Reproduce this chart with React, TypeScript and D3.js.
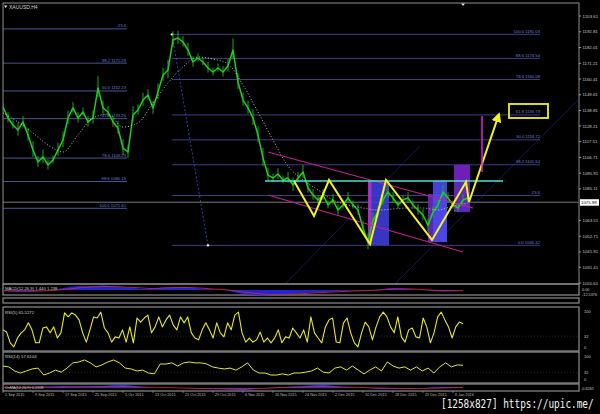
import React from 'react';
import * as d3 from 'd3';

// ---------- DATA ----------
const closePrices = [
  1141.2, 1133.7, 1128.9, 1125.5, 1131.0, 1122.1, 1111.8, 1103.5, 1107.0, 1101.5,
  1104.9, 1111.8, 1118.6, 1133.7, 1140.6, 1133.7, 1137.8, 1131.0, 1133.7, 1154.3,
  1140.6, 1137.8, 1131.0, 1126.8, 1113.1, 1110.4, 1135.8, 1139.2, 1146.0, 1149.5,
  1140.6, 1151.5, 1163.2, 1166.6, 1187.2, 1188.5, 1185.8, 1180.3, 1172.1, 1174.8,
  1172.1, 1168.0, 1165.2, 1168.0, 1165.2, 1169.3, 1180.3, 1158.4, 1146.0, 1140.6,
  1133.7, 1122.1, 1106.3, 1094.6, 1092.6, 1095.3, 1091.2, 1092.6, 1087.8, 1092.6,
  1096.7, 1085.7, 1080.9, 1077.5, 1080.9, 1074.1, 1077.5, 1070.6, 1074.1, 1078.9,
  1074.1, 1070.6, 1058.3, 1048.5, 1063.8, 1069.3, 1077.5, 1083.0, 1078.9, 1074.1,
  1077.5, 1078.9, 1074.1, 1070.6, 1067.2, 1060.0, 1069.3, 1074.1, 1083.0, 1078.9,
  1074.1, 1072.0, 1077.5, 1078.9,
];
const barRange = [
  3, 4, 3, 5, 4, 5, 6, 4, 5, 4, 3, 5, 6, 5, 4, 4, 3, 4, 5, 8,
  5, 4, 4, 5, 6, 5, 6, 4, 5, 4, 5, 6, 5, 7, 6, 5, 4, 5, 4, 3,
  3, 4, 3, 3, 4, 5, 8, 6, 5, 5, 6, 6, 7, 5, 3, 4, 3, 4, 5, 4,
  5, 4, 4, 3, 4, 3, 4, 4, 3, 4, 3, 4, 5, 6, 5, 4, 4, 5, 4, 3,
  3, 4, 3, 4, 4, 5, 4, 4, 5, 4, 3, 3, 4, 3,
];
const maStep = 3;
const maPrices = [
  1137.1, 1131.0, 1123.4, 1115.2, 1110.4, 1122.1, 1133.7, 1136.4, 1127.5, 1130.3,
  1144.0, 1157.7, 1168.7, 1175.5, 1174.1, 1170.7, 1156.3, 1137.8, 1118.6, 1100.8,
  1091.2, 1084.4, 1077.5, 1074.1, 1072.0, 1070.6, 1071.3, 1072.0, 1072.0, 1070.6,
  1073.4, 1075.4,
];
const priceTicks = [
  '1203.61', '1192.81', '1182.01', '1171.21', '1160.41', '1149.61', '1138.81', '1128.21',
  '1117.51', '1106.71', '1095.91', '1085.11', '1063.51', '1052.71', '1041.91', '1031.41', '1020.61',
];
const currentPrice = 1075.98;

const leftFibLevels = [1194.77, 1171.29, 1152.23, 1133.26, 1106.23, 1090.15, 1071.81];
const leftFibLabels = ['23.6', '38.2 1171.29', '50.0 1152.23', '61.8 1133.26', '78.6 1106.23', '88.6 1090.15', '100.0 1071.81'];
const leftFibRange = [0, 24.8];
const rightFibLevels = [1191.03, 1174.54, 1160.08, 1135.79, 1118.72, 1101.64, 1080.55, 1046.42];
const rightFibLabels = ['100.0 1191.03', '88.6 1174.54', '78.6 1160.08', '61.8 1135.79', '50.0 1118.72', '38.2 1101.64', '23.6', '0.0 1046.42'];
const rightFibRange = [33.8, 107.4];
const fibAnchorIdx = [33.8, 41];
const fibAnchorPrice = [1191.03, 1046.42];

const zigIdx = [58.2, 62.2, 65.2, 73.4, 76.6, 85.8, 92.6, 93.2, 99.2];
const zigPrice = [1090.5, 1066.5, 1091.2, 1047.3, 1091.2, 1050.1, 1089.8, 1076.1, 1136.4];

const necklinePrice = 1090.5;
const necklineIdx = [52.4, 100];
const channelUpperIdx = [53, 94];
const channelUpperPrice = [1110.4, 1072.0];
const channelLowerIdx = [53, 92];
const channelLowerPrice = [1080.9, 1041.9];
const gannA = { idx: [56.4, 83.4], price: [1019.9, 1114.5] };
const gannB = { idx: [78.4, 115], price: [1019.9, 1146.0] };

const boxes = [
  { i0: 73, i1: 77.2, p0: 1046.6, p1: 1090.5, fill: '#3c3cd8' },
  { i0: 73, i1: 73.7, p0: 1046.6, p1: 1090.5, fill: '#b030c8' },
  { i0: 85, i1: 88.8, p0: 1048.7, p1: 1081.6, fill: '#6a28c0' },
  { i0: 86, i1: 88.8, p0: 1048.7, p1: 1090.5, fill: '#4a4af0' },
  { i0: 90.2, i1: 93.4, p0: 1069.3, p1: 1101.5, fill: '#7a22cc' },
  { i0: 90.2, i1: 93.4, p0: 1069.3, p1: 1089.8, fill: '#5a2ab8' },
];
const targetIdx = 95.8;
const targetPrice = [1135.1, 1096.7];
const targetBoxIdx = [101.2, 109];
const targetBoxPrice = [1133.7, 1143.3];

const timeTickIdx = [0, 6, 12, 18, 24, 30, 36, 42, 48, 54, 60, 66, 72, 78, 84, 90];
const timeLabels = [
  '1 Sep 2015', '9 Sep 2015', '17 Sep 2015', '25 Sep 2015', '5 Oct 2015', '13 Oct 2015',
  '21 Oct 2015', '29 Oct 2015', '6 Nov 2015', '16 Nov 2015', '24 Nov 2015', '2 Dec 2015',
  '10 Dec 2015', '18 Dec 2015', '29 Dec 2015', '6 Jan 2016',
];

const macdHist = [
  -2, -3, -3, -2, -1, 0, 4, 7, 8, 8, 9, 7, 5, 4, 2, 3, 5, 6, 6, 4,
  2, 1, 0, -4, -8, -10, -11, -10, -9, -8, -6, -5, -4, -3, -2, -1, -1, 0, 2, 4,
  3, 1, 0, -2, -3, -2, -1,
];
const macdSignal = [
  -1, -2, -2.4, -2.4, -2, -1, 1, 3, 5, 6, 7, 7, 6, 5, 4, 3, 4, 4.6, 5.2, 4.6,
  3.6, 2, 1, -1, -4, -6.4, -8, -9, -9, -8.4, -7.2, -6, -5, -4, -3, -2, -1.4, -0.8, 0.4, 2,
  2.4, 2, 1, -0.4, -1.4, -1.8, -1.4,
];
const rsi5 = [
  49, 43, 14, 3, 27, 41, 49, 68, 49, 14, 14, 54, 57, 41, 57, 27, 41, 95, 84, 95,
  89, 76, 41, 16, 49, 84, 81, 97, 54, 41, 16, 30, 27, 49, 16, 57, 14, 81, 70, 81,
  89, 41, 57, 84, 57, 76, 89, 62, 49, 84, 68, 84, 41, 27, 22, 49, 68, 49, 27, 68,
  41, 30, 68, 49, 89, 97, 41, 16, 27, 16, 22, 43, 16, 27, 14, 27, 49, 14, 30, 27,
  54, 41, 27, 49, 16,
  84, 41, 27, 14, 57, 76, 81, 16, 14, 68, 81, 41, 14, 3, 41, 70, 57, 22, 57, 84,
  97, 84, 57, 41, 84, 30, 16, 49, 54, 30, 27, 81, 57, 14, 41, 84, 97, 76, 57, 27,
  57, 70, 65.5,
];
const rsi14 = [
  55, 52, 38, 31, 38, 45, 48, 24, 31, 41, 34, 48, 66, 69, 76, 66, 52, 59, 69, 76,
  66, 48, 45, 38, 41, 31, 28, 62, 62, 66, 55, 66, 69, 66, 66, 62, 52, 48, 45, 48,
  41, 52, 66, 41, 31, 31, 24, 24, 28, 24, 31, 31, 34, 38,
  48, 34, 31, 48, 52, 41, 55, 41, 28, 41, 52, 38, 69, 55, 48, 52, 41, 52, 38, 48,
  31, 52, 66, 52, 59, 57.6,
];
const osma = [0, 1, 1, 2, 1, 2, 3, 1, 0, 0, -1, -1, -2, 0, 1, 2, 3, 1, 0, -1, -1, 0, 1, 1];
const osmaSignal = [0.5, 0.5, 1, 1, 1.5, 1.5, 1.5, 1, 0.5, 0, -0.5, -1, -1, -0.5, 0.5, 1, 1.5, 1, 0.5, 0, -0.5, -0.5, 0, 0.5];
const rsiLevels = ['100', '32', '0'];
const rsiLevelValues = [100, 32, 0];

// ---------- LAYOUT ----------
const W = 600, H = 414;
const L = 3, R = 578;
const FONT = 'Liberation Sans, DejaVu Sans, sans-serif';

export default function App() {
  const x = d3.scaleLinear().domain([0, 115]).range([3, 578]);
  const y = d3.scaleLinear().domain([1020.61, 1203.61]).range([283, 16]);

  const pricePath = d3.line<number>().x((_, i) => x(i)).y((d) => y(d))(closePrices) || '';
  const maPath = d3.line<number>().x((_, i) => x(i * maStep)).y((d) => y(d)).curve(d3.curveMonotoneX)(maPrices) || '';
  const zigPath = d3.line<number>().x((d) => x(d)).y((_, i) => y(zigPrice[i]))(zigIdx) || '';

  const xm = d3.scaleLinear().domain([0, macdHist.length - 1]).range([3, 463]);
  const ym = d3.scaleLinear().domain([-12, 12]).range([296, 284]);
  const macdArea = d3.area<number>().x((_, i) => xm(i)).y0(ym(0)).y1((d) => ym(d)).curve(d3.curveMonotoneX)(macdHist) || '';
  const macdSig = d3.line<number>().x((_, i) => xm(i)).y((d) => ym(d)).curve(d3.curveMonotoneX)(macdSignal) || '';

  const xr5 = d3.scaleLinear().domain([0, rsi5.length - 1]).range([3, 463]);
  const yr5 = d3.scaleLinear().domain([0, 100]).range([348, 311]);
  const rsi5Path = d3.line<number>().x((_, i) => xr5(i)).y((d) => yr5(d))(rsi5) || '';
  const xr14 = d3.scaleLinear().domain([0, rsi14.length - 1]).range([3, 463]);
  const yr14 = d3.scaleLinear().domain([0, 100]).range([382, 353]);
  const rsi14Path = d3.line<number>().x((_, i) => xr14(i)).y((d) => yr14(d))(rsi14) || '';
  const xo = d3.scaleLinear().domain([0, osma.length - 1]).range([3, 463]);
  const yo = d3.scaleLinear().domain([-4, 4]).range([392, 384]);
  const osmaArea = d3.area<number>().x((_, i) => xo(i)).y0(yo(0)).y1((d) => yo(d)).curve(d3.curveMonotoneX)(osma) || '';
  const osmaSig = d3.line<number>().x((_, i) => xo(i)).y((d) => yo(d)).curve(d3.curveMonotoneX)(osmaSignal) || '';

  const frame = '#8e8e8e';
  const panels = [
    [284, 295], [298, 303], [307, 351], [352, 383], [384, 391],
  ];
  const clamp = (v: number, a: number, b: number) => Math.max(a, Math.min(b, v));

  return (
    <svg width={W} height={H} style={{ position: 'absolute', left: 0, top: 0, background: '#000' }} fontFamily={FONT}>
      <defs>
        <marker id="arr" viewBox="0 0 10 10" refX="8" refY="5" markerWidth="5" markerHeight="5" orient="auto">
          <path d="M0,0 L10,5 L0,10 z" fill="#f2f21e" />
        </marker>
        <clipPath id="main"><rect x={L} y={3} width={R - L + 1} height={281} /></clipPath>
      </defs>
      <rect x={0} y={0} width={W} height={H} fill="#000" />

      <g clipPath="url(#main)">
        <line x1={x(gannA.idx[0])} y1={y(gannA.price[0])} x2={x(gannA.idx[1])} y2={y(gannA.price[1])} stroke="#161654" strokeWidth={1} />
        <line x1={x(gannB.idx[0])} y1={y(gannB.price[0])} x2={x(gannB.idx[1])} y2={y(gannB.price[1])} stroke="#161654" strokeWidth={1} />

        {leftFibLevels.map((p, i) => (
          <g key={'lf' + i}>
            <line x1={x(leftFibRange[0])} x2={x(leftFibRange[1])} y1={y(p)} y2={y(p)} stroke="#4a5696" strokeWidth={1} />
            <text x={x(leftFibRange[1]) - 1} y={y(p) - 1.5} fontSize={4.2} fill="#6f7fd6" textAnchor="end">{leftFibLabels[i]}</text>
          </g>
        ))}
        {rightFibLevels.map((p, i) => (
          <g key={'rf' + i}>
            <line x1={x(rightFibRange[0])} x2={x(rightFibRange[1])} y1={y(p)} y2={y(p)} stroke="#3e3e86" strokeWidth={1} />
            <text x={x(rightFibRange[1])} y={y(p) - 1.5} fontSize={4.2} fill="#6f7fd6" textAnchor="end">{rightFibLabels[i]}</text>
          </g>
        ))}
        <line x1={x(fibAnchorIdx[0])} y1={y(fibAnchorPrice[0])} x2={x(fibAnchorIdx[1])} y2={y(fibAnchorPrice[1])} stroke="#34449a" strokeWidth={1} strokeDasharray="2,2" />
        <circle cx={x(fibAnchorIdx[0])} cy={y(fibAnchorPrice[0])} r={1.2} fill="#fff" />
        <circle cx={x(fibAnchorIdx[1])} cy={y(fibAnchorPrice[1])} r={1.2} fill="#fff" />

        <line x1={L} x2={R} y1={y(currentPrice)} y2={y(currentPrice)} stroke="#7a7a7a" strokeWidth={1} />

        {boxes.map((b, i) => (
          <rect key={'b' + i} x={x(b.i0)} y={y(b.p1)} width={x(b.i1) - x(b.i0)} height={y(b.p0) - y(b.p1)} fill={b.fill} opacity={0.9} />
        ))}

        {closePrices.map((c, i) => (
          <line key={'w' + i} x1={x(i)} x2={x(i)} y1={y(c + barRange[i])} y2={y(c - barRange[i] * 0.8)} stroke="#18a818" strokeWidth={1} />
        ))}
        <path d={pricePath} fill="none" stroke="#22cc22" strokeWidth={1.5} strokeLinejoin="round" />
        <path d={maPath} fill="none" stroke="#d0d0d0" strokeWidth={0.9} strokeDasharray="1,2" />

        <line x1={x(channelUpperIdx[0])} y1={y(channelUpperPrice[0])} x2={x(channelUpperIdx[1])} y2={y(channelUpperPrice[1])} stroke="#c0208e" strokeWidth={1.1} />
        <line x1={x(channelLowerIdx[0])} y1={y(channelLowerPrice[0])} x2={x(channelLowerIdx[1])} y2={y(channelLowerPrice[1])} stroke="#c0208e" strokeWidth={1.1} />
        <line x1={x(necklineIdx[0])} x2={x(necklineIdx[1])} y1={y(necklinePrice)} y2={y(necklinePrice)} stroke="#4fe0cf" strokeWidth={1.4} />

        <path d={zigPath} fill="none" stroke="#f2f21e" strokeWidth={2} strokeLinejoin="miter" markerEnd="url(#arr)" />

        <line x1={x(targetIdx)} x2={x(targetIdx)} y1={y(targetPrice[0])} y2={y(targetPrice[1])} stroke="#e020d8" strokeWidth={1.5} />
        <rect x={x(targetBoxIdx[0])} y={y(targetBoxPrice[1])} width={x(targetBoxIdx[1]) - x(targetBoxIdx[0])} height={y(targetBoxPrice[0]) - y(targetBoxPrice[1])} fill="none" stroke="#f2f21e" strokeWidth={1.8} />
      </g>

      <rect x={L} y={3} width={R - L + 1} height={281} fill="none" stroke={frame} strokeWidth={1} />
      <text x={9} y={8.5} fontSize={5} fill="#d8d8d8">XAUUSD,H4</text>
      <path d="M4,5.5 L7.5,5.5 L5.75,8 Z" fill="#ddd" />
      <path d="M461,3.5 L465,3.5 L463,6 Z" fill="#ddd" />

      {priceTicks.map((t) => (
        <g key={t}>
          <line x1={R + 1} x2={R + 3} y1={y(+t)} y2={y(+t)} stroke="#bbb" strokeWidth={0.8} />
          <text x={R + 4.5} y={y(+t) + 1.5} fontSize={4.3} fill="#c8c8c8">{t}</text>
        </g>
      ))}
      <rect x={R + 2} y={y(currentPrice) - 3} width={19} height={6.5} fill="#fff" />
      <text x={R + 3} y={y(currentPrice) + 1.6} fontSize={4.3} fill="#000">{currentPrice.toFixed(2)}</text>

      {panels.map(([a, b], i) => (
        <rect key={'p' + i} x={L} y={a} width={R - L + 1} height={b - a} fill="none" stroke={frame} strokeWidth={1.2} />
      ))}

      <path d={macdArea} fill="#2424e6" opacity={0.95} />
      <path d={macdSig} fill="none" stroke="#c8283c" strokeWidth={0.9} />
      <text x={5} y={289.5} fontSize={4.2} fill="#cfcfcf">MACD(12,26,9) 1.440 1.238</text>
      <text x={R + 4} y={ym(0) + 1} fontSize={3.8} fill="#c8c8c8">0.00</text>
      <text x={R + 4} y={ym(-8) + 1.5} fontSize={3.8} fill="#c8c8c8">-12.5376</text>

      <line x1={L} x2={R} y1={yr5(32)} y2={yr5(32)} stroke="#3a3a3a" strokeWidth={0.6} strokeDasharray="1,2" />
      <path d={rsi5Path} fill="none" stroke="#e8e82a" strokeWidth={1.1} strokeLinejoin="round" />
      <text x={5} y={314} fontSize={4.3} fill="#cfcfcf">RSI(5) 65.5272</text>
      {rsiLevels.map((l, i) => (
        <text key={'r5' + l} x={R + 6} y={clamp(yr5(rsiLevelValues[i]), 311, 347) + 1.5} fontSize={4} fill="#c8c8c8">{l}</text>
      ))}

      <line x1={L} x2={R} y1={yr14(32)} y2={yr14(32)} stroke="#3a3a3a" strokeWidth={0.6} strokeDasharray="1,2" />
      <path d={rsi14Path} fill="none" stroke="#e8e82a" strokeWidth={1} strokeLinejoin="round" />
      <text x={5} y={358} fontSize={4.3} fill="#cfcfcf">RSI(14) 57.6104</text>
      {rsiLevels.map((l, i) => (
        <text key={'r14' + l} x={R + 6} y={clamp(yr14(rsiLevelValues[i]), 356, 379) + 1.5} fontSize={4} fill="#c8c8c8">{l}</text>
      ))}

      <path d={osmaArea} fill="#3030e0" />
      <path d={osmaSig} fill="none" stroke="#c8283c" strokeWidth={0.8} />
      <text x={5} y={389} fontSize={3.8} fill="#cfcfcf">OsMA(12,26,9) 0.2108</text>
      <text x={R + 3} y={389.5} fontSize={3.8} fill="#c8c8c8">-0.6265</text>

      {timeTickIdx.map((ti, i) => (
        <g key={'t' + i}>
          <line x1={x(ti)} x2={x(ti)} y1={391} y2={393} stroke="#aaa" strokeWidth={0.6} />
          <text x={x(ti) + 2} y={396} fontSize={3.8} fill="#b8b8b8">{timeLabels[i]}</text>
        </g>
      ))}

      <text transform="translate(441,408) scale(1,1.3)" fontSize={9.4} fill="#f4f4f4" fontFamily="DejaVu Sans Mono, monospace">[1258x827] https://upic.me/</text>
    </svg>
  );
}
